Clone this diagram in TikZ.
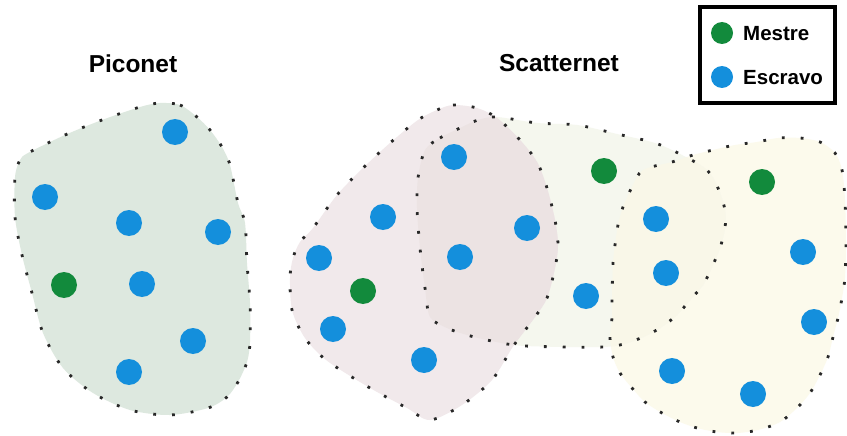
\documentclass[tikz,border=0pt]{standalone}
\usepackage{fontspec}
\setmainfont{Liberation Sans}
\definecolor{picfill}{RGB}{221,232,223}
\definecolor{pinkfill}{RGB}{241,233,235}
\definecolor{pinkmid}{RGB}{236,227,227}
\definecolor{midfill}{RGB}{245,247,238}
\definecolor{yelfill}{RGB}{252,250,236}
\definecolor{midyel}{RGB}{249,247,232}
\definecolor{slaveblue}{RGB}{20,143,220}
\definecolor{mastergreen}{RGB}{18,138,60}
\definecolor{dotgray}{RGB}{40,40,40}
\tikzset{
  outline/.style={draw=dotgray, line width=2.8pt, dash pattern=on 2.8pt off 16pt},
  slave/.style={circle, fill=slaveblue, minimum size=26pt, inner sep=0pt},
  master/.style={circle, fill=mastergreen, minimum size=26pt, inner sep=0pt},
  title/.style={font=\bfseries\fontsize{24.5}{28}\selectfont, inner sep=0pt},
  legtext/.style={font=\bfseries\fontsize{20.5}{24}\selectfont, anchor=west, inner sep=0pt},
}
\def\piconetpath{plot[smooth cycle] coordinates {(160,103) (180,105) (197,117) (210,130) (222,147) (230,165) (238,203) (245,223) (247,263) (250,303) (250,342) (247,362) (238,382) (227,397) (208,408) (170,415) (130,410) (93,393) (63,368) (43,333) (32,293) (22,255) (15,217) (15,177) (20,160) (28,153) (65,135) (102,120) (140,107)}}
\def\pinkpath{plot[smooth cycle] coordinates {(437,110) (453,105) (477,108) (497,118) (520,140) (537,162) (547,188) (555,220) (558,245) (555,268) (547,298) (535,317) (523,333) (512,348) (492,380) (462,405) (430,420) (407,408) (370,388) (333,365) (317,352) (303,335) (292,310) (290,278) (293,258) (300,242) (313,228) (337,195) (363,168) (390,143) (418,120)}}
\def\midpath{plot[smooth cycle] coordinates {(425,150) (440,138) (460,128) (478,120) (497,117) (537,123) (577,125) (617,134) (655,143) (682,155) (707,170) (718,188) (725,210) (725,228) (720,248) (712,267) (703,285) (690,300) (677,315) (660,328) (643,337) (624,344) (604,347) (565,347) (525,346) (507,344) (487,340) (467,335) (447,328) (430,317) (425,288) (420,248) (417,208) (418,178)}}
\def\yelpath{plot[smooth cycle] coordinates {(643,170) (672,162) (693,155) (713,150) (735,145) (757,142) (778,138) (800,138) (820,142) (835,153) (842,170) (845,200) (846,243) (845,277) (842,298) (838,318) (833,337) (828,357) (820,375) (810,393) (797,408) (780,422) (758,430) (737,433) (717,432) (697,428) (680,422) (662,413) (645,402) (632,388) (620,373) (613,357) (610,338) (612,318) (612,300) (613,263) (615,245) (618,225) (623,207) (632,187)}}
\begin{document}
\begin{tikzpicture}[x=1pt,y=-1pt]
\useasboundingbox (0,0) rectangle (847,436);
\fill[white] (0,0) rectangle (847,436);
% fills
\fill[picfill] \piconetpath;
\fill[yelfill] \yelpath;
\fill[midfill] \midpath;
\fill[pinkfill] \pinkpath;
\begin{scope}
  \clip \midpath;
  \fill[midyel] \yelpath;
  \fill[pinkmid] \pinkpath;
\end{scope}
% outlines
\draw[outline] \piconetpath;
\draw[outline] \pinkpath;
\draw[outline] \midpath;
\draw[outline] \yelpath;
% titles
\node[title] (tpico) at (133,64) {Piconet};
\node[title] (tscat) at (559,63) {Scatternet};
% piconet devices
\node[slave] (p1) at (175,132) {};
\node[slave] (p2) at (45,197) {};
\node[slave] (p3) at (129,223) {};
\node[slave] (p4) at (218,232) {};
\node[slave] (p5) at (142,284) {};
\node[master] (pm) at (64,285) {};
\node[slave] (p6) at (193,341) {};
\node[slave] (p7) at (129,372) {};
% scatternet devices
\node[slave] (s1) at (454,157) {};
\node[slave] (s2) at (383,217) {};
\node[slave] (s3) at (527,228) {};
\node[slave] (s4) at (460,257) {};
\node[slave] (s5) at (319,258) {};
\node[master] (sm1) at (363,291) {};
\node[slave] (s6) at (333,329) {};
\node[slave] (s7) at (424,360) {};
\node[master] (sm2) at (604,171) {};
\node[slave] (s8) at (586,296) {};
\node[slave] (s9) at (656,219) {};
\node[slave] (s10) at (666,273) {};
\node[master] (sm3) at (762,182) {};
\node[slave] (s11) at (803,252) {};
\node[slave] (s12) at (814,322) {};
\node[slave] (s13) at (672,371) {};
\node[slave] (s14) at (753,394) {};
% legend
\node[draw=black, line width=4pt, minimum width=135pt, minimum height=96pt, inner sep=0pt] (legend) at (767.5,55) {};
\node[master, minimum size=22pt] (lm) at (722,33) {};
\node[slave, minimum size=22pt] (ls) at (722,77) {};
\node[legtext] (lmt) at (743,34) {Mestre};
\node[legtext] (lst) at (743,78) {Escravo};
\end{tikzpicture}
\end{document}
